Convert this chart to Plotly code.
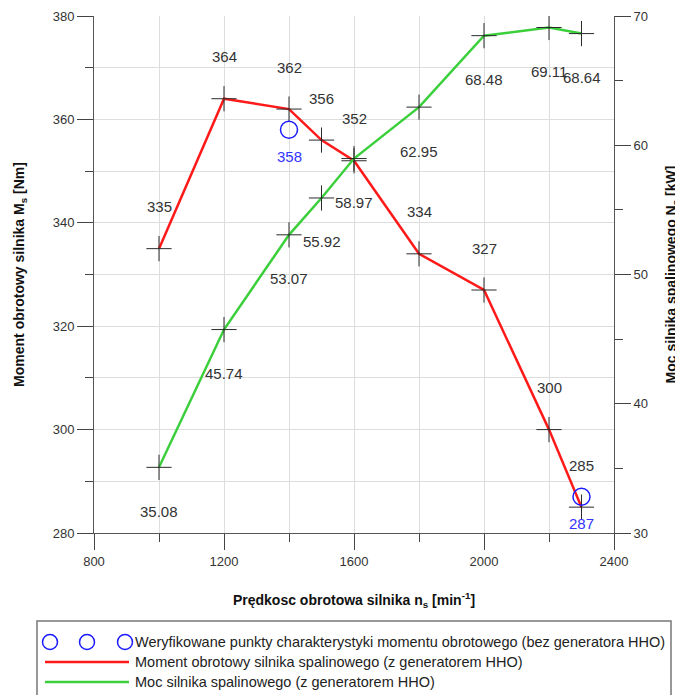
import plotly.graph_objects as go

# ---- data ----
speed = [1000, 1200, 1400, 1500, 1600, 1800, 2000, 2200, 2300]
torque = [335, 364, 362, 356, 352, 334, 327, 300, 285]
power = [35.08, 45.74, 53.07, 55.92, 58.97, 62.95, 68.48, 69.11, 68.64]
verify_speed = [1400, 2300]
verify_torque = [358, 287]

legend_texts = [
    "Weryfikowane punkty charakterystyki momentu obrotowego (bez generatora HHO)",
    "Moment obrotowy silnika spalinowego (z generatorem HHO)",
    "Moc silnika spalinowego (z generatorem HHO)",
]

# ---- layout geometry (page body adds an 8 px offset) ----
OFF = 8
W, H = 683 - OFF, 695 - OFF
ML, MR, MT, MB = 94 - OFF, 69, 16 - OFF, 162
PW, PH = W - ML - MR, H - MT - MB


def px(x):
    """screen x (px) -> paper"""
    return (x - OFF - ML) / PW


def py(y):
    """screen y (px) -> paper"""
    return (H - MB - (y - OFF)) / PH


FONT = "Liberation Sans, Arial, sans-serif"
RED = "#ff1a1a"
GREEN = "#3ccf3c"
BLUE = "#1a1aff"
CROSS = "#2a2a2a"

fig = go.Figure()

fig.add_trace(go.Scatter(x=speed, y=power, yaxis="y2", mode="lines+markers",
                         line=dict(color=GREEN, width=2.5),
                         marker=dict(symbol="cross-thin", size=18, color=CROSS,
                                     line=dict(color=CROSS, width=1)),
                         name=legend_texts[2], showlegend=False))
fig.add_trace(go.Scatter(x=speed, y=torque, mode="lines+markers",
                         line=dict(color=RED, width=2.5),
                         marker=dict(symbol="cross-thin", size=18, color=CROSS,
                                     line=dict(color=CROSS, width=1)),
                         name=legend_texts[1], showlegend=False))
fig.add_trace(go.Scatter(x=verify_speed, y=verify_torque, mode="markers",
                         marker=dict(symbol="circle-open", size=17, color=BLUE,
                                     line=dict(color=BLUE, width=1.5)),
                         name=legend_texts[0], showlegend=False))

annotations = []
for xv, tv in zip(speed, torque):
    annotations.append(dict(x=xv, y=tv, xref="x", yref="y", text=f"{tv:d}",
                            showarrow=False, yshift=42,
                            font=dict(family=FONT, size=15, color="#333333")))
for xv, pv in zip(speed, power):
    annotations.append(dict(x=xv, y=pv, xref="x", yref="y2", text=f"{pv:.2f}",
                            showarrow=False, yshift=-44,
                            font=dict(family=FONT, size=15, color="#333333")))
for xv, tv in zip(verify_speed, verify_torque):
    annotations.append(dict(x=xv, y=tv, xref="x", yref="y", text=f"{tv:d}",
                            showarrow=False, yshift=-27,
                            font=dict(family=FONT, size=15, color="#3333ff")))

# ---- manual legend ----
shapes = [dict(type="rect", xref="paper", yref="paper",
               x0=px(37), x1=px(671), y0=py(705), y1=py(621),
               line=dict(color="#777777", width=1.5), fillcolor="rgba(0,0,0,0)")]
for cx in [50, 87, 125]:
    shapes.append(dict(type="circle", xref="paper", yref="paper",
                       x0=px(cx - 7.5), x1=px(cx + 7.5), y0=py(642 + 7.5), y1=py(642 - 7.5),
                       line=dict(color=BLUE, width=1.5)))
for yy, col in [(662, RED), (682, GREEN)]:
    shapes.append(dict(type="line", xref="paper", yref="paper",
                       x0=px(45), x1=px(129), y0=py(yy), y1=py(yy),
                       line=dict(color=col, width=2.5)))
for txt, yy in zip(legend_texts, [642, 662, 682]):
    annotations.append(dict(x=px(133), y=py(yy), xref="paper", yref="paper",
                            xanchor="left", yanchor="middle", text=txt, showarrow=False,
                            font=dict(family=FONT, size=14.5, color="#222222")))

TITLE_FONT = dict(family=FONT, size=14, color="#111111")
axis_common = dict(showline=True, linecolor="#555555", linewidth=1,
                   ticks="outside", ticklen=16, tickcolor="#444444", tickwidth=1,
                   tickfont=dict(family=FONT, size=13, color="#333333"),
                   zeroline=False, automargin=False)

fig.update_layout(
    width=W, height=H,
    margin=dict(l=ML, r=MR, t=MT, b=MB, autoexpand=False),
    paper_bgcolor="white", plot_bgcolor="white",
    showlegend=False,
    xaxis=dict(range=[800, 2400], dtick=400, tick0=800,
               showgrid=True, gridcolor="#dddddd", gridwidth=1,
               minor=dict(dtick=200, ticks="outside", ticklen=8, tickcolor="#444444",
                          showgrid=True, gridcolor="#dddddd"),
               title=dict(text="<b>Prędkosc obrotowa silnika n<sub>s</sub> [min<sup>-1</sup>]</b>",
                          font=TITLE_FONT, standoff=27),
               **axis_common),
    yaxis=dict(range=[280, 380], dtick=20, tick0=280,
               showgrid=True, gridcolor="#dddddd", gridwidth=1,
               minor=dict(dtick=10, ticks="outside", ticklen=8, tickcolor="#444444",
                          showgrid=True, gridcolor="#dddddd"),
               title=dict(text="<b>Moment obrotowy silnika M<sub>s</sub> [Nm]</b>",
                          font=TITLE_FONT, standoff=24),
               **axis_common),
    yaxis2=dict(range=[30, 70], dtick=10, tick0=30, overlaying="y", side="right",
                showgrid=False,
                minor=dict(dtick=5, ticks="outside", ticklen=8, tickcolor="#444444"),
                title=dict(text="<b>Moc silnika spalinowego N<sub>s</sub> [kW]</b>",
                           font=TITLE_FONT, standoff=19),
                **axis_common),
    annotations=annotations,
    shapes=shapes,
)

fig.write_html("out.html")
